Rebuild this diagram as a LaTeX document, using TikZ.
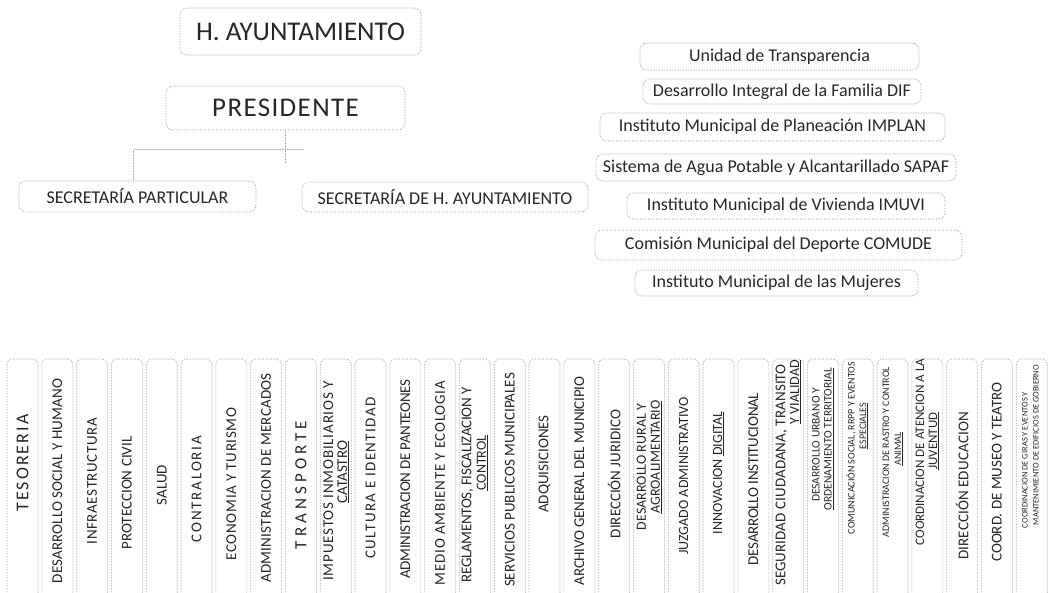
\documentclass[tikz,border=0pt]{standalone}
\usepackage{fontspec}
\setmainfont{Carlito}
% letter-spaced text stretched to a given length (pt)
\ExplSyntaxOn
\box_new:N \l_rsk_box
\fp_new:N \l_rsk_fp
\NewDocumentCommand{\vt}{mm}{
  \hbox_set:Nn \l_rsk_box {#2}
  \fp_set:Nn \l_rsk_fp { 100 * ( #1 - \dim_to_fp:n { \box_wd:N \l_rsk_box } ) / ( ( \str_count:n {#2} ) * \dim_to_fp:n { \fontdimen6\font } ) }
  \exp_args:Nx \addfontfeature { LetterSpace = \fp_eval:n { round(\l_rsk_fp, 2) } }
  #2
}
\ExplSyntaxOff
\begin{document}
\begin{tikzpicture}[x=1pt,y=-1pt,
 box/.style={draw=black!45, densely dotted, line width=0.6pt, rounded corners=7pt, inner sep=0pt, text=black!85},
 vbox/.style={draw=black!45, densely dotted, line width=0.6pt, rounded corners=5pt, inner sep=0pt, minimum width=31pt, minimum height=240pt},
 vl/.style={rotate=90, inner sep=0pt, text=black!85, font=\fontsize{15}{15}\selectfont},
 fs/.style={font=\fontsize{#1}{#1}\selectfont},
 conn/.style={draw=black!35, densely dotted, line width=0.6pt},
 big/.style={font=\fontsize{27}{27}\selectfont},
 mid/.style={font=\fontsize{18}{18}\selectfont}]
\useasboundingbox (0,0) rectangle (1048,592);
\clip (0,0) rectangle (1048,592);

% top hierarchy
\node[box,big,minimum width=241pt,minimum height=47pt] (ayto) at (300.5,31.5) {H. AYUNTAMIENTO};
\node[box,big,minimum width=239pt,minimum height=44pt] (pres) at (285.5,108) {\vt{148}{PRESIDENTE}};
\node[box,mid,minimum width=237pt,minimum height=31pt] (secp) at (137.5,196.5) {SECRETARÍA PARTICULAR};
\node[box,mid,minimum width=286pt,minimum height=30pt] (seca) at (445,197) {SECRETARÍA DE H. AYUNTAMIENTO};

% connectors
\coordinate (jw) at (133,149);
\coordinate (je) at (303,149);
\coordinate (js) at (285.5,163);
\draw[conn] (pres.south) -- (js);
\draw[conn] (jw) -- (je);
\draw[conn] (jw) -- (jw |- secp.north);

% right column
\node[box,mid,minimum width=279pt,minimum height=27pt] (ut) at (779.5,56.5) {Unidad de Transparencia};
\node[box,mid,minimum width=278pt,minimum height=25pt] (dif) at (782,91.5) {Desarrollo Integral de la Familia DIF};
\node[box,mid,minimum width=345pt,minimum height=28pt] (implan) at (772.5,127) {Instituto Municipal de Planeación IMPLAN};
\node[box,mid,minimum width=360pt,minimum height=27pt] (sapaf) at (776,167.5) {Sistema de Agua Potable y Alcantarillado SAPAF};
\node[box,mid,minimum width=318pt,minimum height=26pt] (imuvi) at (786,206) {Instituto Municipal de Vivienda IMUVI};
\node[box,mid,minimum width=367pt,minimum height=30pt] (comude) at (778.5,245) {Comisión Municipal del Deporte COMUDE};
\node[box,mid,minimum width=283pt,minimum height=26pt] (mujeres) at (776.5,283) {Instituto Municipal de las Mujeres};

% bottom row boxes
\foreach \i in {1,...,30} \node[vbox] (b\i) at ({22.5+34.8*(\i-1)},479) {};

% bottom row labels
\node[vl,fs=18] (l1) at (22.5,463) {\vt{99}{TESORERIA}};
\node[vl] (l2) at (57.3,481) {\vt{205}{DESARROLLO SOCIAL Y HUMANO}};
\node[vl] (l3) at (92.1,481) {\vt{127}{INFRAESTRUCTURA}};
\node[vl] (l4) at (126.9,493) {PROTECCION CIVIL};
\node[vl] (l5) at (161.7,485) {SALUD};
\node[vl] (l6) at (196.5,489) {\vt{108}{CONTRALORIA}};
\node[vl] (l7) at (231.3,484) {\vt{155}{ECONOMIA Y TURISMO}};
\node[vl] (l8) at (266.1,478) {\vt{210}{ADMINISTRACION DE MERCADOS}};
\node[vl,fs=17] (l9) at (300.9,485) {\vt{132}{TRANSPORTE}};
\node[vl] (l10a) at (328.2,481) {\vt{202}{IMPUESTOS INMOBILIARIOS Y}};
\node[vl] (l10b) at (343.2,472) {\underline{CATASTRO}};
\node[vl] (l11) at (370.5,478) {\vt{165}{CULTURA E IDENTIDAD}};
\node[vl] (l12) at (405.3,479) {\vt{198}{ADMINISTRACION DE PANTEONES}};
\node[vl] (l13) at (440.1,483) {\vt{207}{MEDIO AMBIENTE Y ECOLOGIA}};
\node[vl] (l14a) at (467.4,485) {\vt{194}{REGLAMENTOS, FISCALIZACION Y}};
\node[vl,fs=14] (l14b) at (482.4,463) {\underline{CONTROL}};
\node[vl] (l15) at (509.7,480) {\vt{214}{SERVICIOS PUBLICOS MUNICIPALES}};
\node[vl] (l16) at (544.5,464) {ADQUISICIONES};
\node[vl] (l17) at (579.3,481) {\vt{207}{ARCHIVO GENERAL DEL MUNICIPIO}};
\node[vl] (l18) at (614.1,474) {DIRECCIÓN JURIDICO};
\node[vl,fs=14] (l19a) at (641.4,467) {DESARROLLO RURAL Y};
\node[vl,fs=14] (l19b) at (656.4,457) {\underline{AGROALIMENTARIO}};
\node[vl,fs=14] (l20) at (683.7,476) {JUZGADO ADMINISTRATIVO};
\node[vl,fs=14] (l21) at (718.5,473) {INNOVACION \underline{DIGITAL}};
\node[vl] (l22) at (753.3,479) {\vt{172}{DESARROLLO INSTITUCIONAL}};
\node[vl] (l23a) at (781.5,475) {\vt{222}{SEGURIDAD CIUDADANA, TRANSITO}};
\node[vl,fs=14] (l23b) at (795.5,392) {\underline{Y VIALIDAD}};
\node[vl,fs=11.5] (l24a) at (816,445) {DESARROLLO URBANO Y};
\node[vl,fs=11.5] (l24b) at (829,439) {\underline{ORDENAMIENTO TERRITORIAL}};
\node[vl,fs=10] (l25a) at (851,448) {COMUNICACIÓN SOCIAL, RRPP Y EVENTOS};
\node[vl,fs=10] (l25b) at (864,426) {\underline{ESPECIALES}};
\node[vl,fs=10] (l26a) at (886,452) {ADMINISTRACION DE RASTRO Y CONTROL};
\node[vl,fs=10] (l26b) at (899,449) {\underline{ANIMAL}};
\node[vl,fs=13] (l27a) at (920,452) {COORDINACION DE ATENCION A LA};
\node[vl,fs=13] (l27b) at (934,441) {\underline{JUVENTUD}};
\node[vl] (l28) at (962.1,486) {\vt{148}{DIRECCIÓN EDUCACION}};
\node[vl] (l29) at (996.9,472) {COORD. DE MUSEO Y TEATRO};
\node[vl,fs=8.5] (l30a) at (1025,460) {COORDINACION DE GIRAS Y EVENTOS Y};
\node[vl,fs=8.5] (l30b) at (1036,445) {MANTENIMIENTO DE EDIFICIOS DE GOBIERNO};
\end{tikzpicture}
\end{document}
